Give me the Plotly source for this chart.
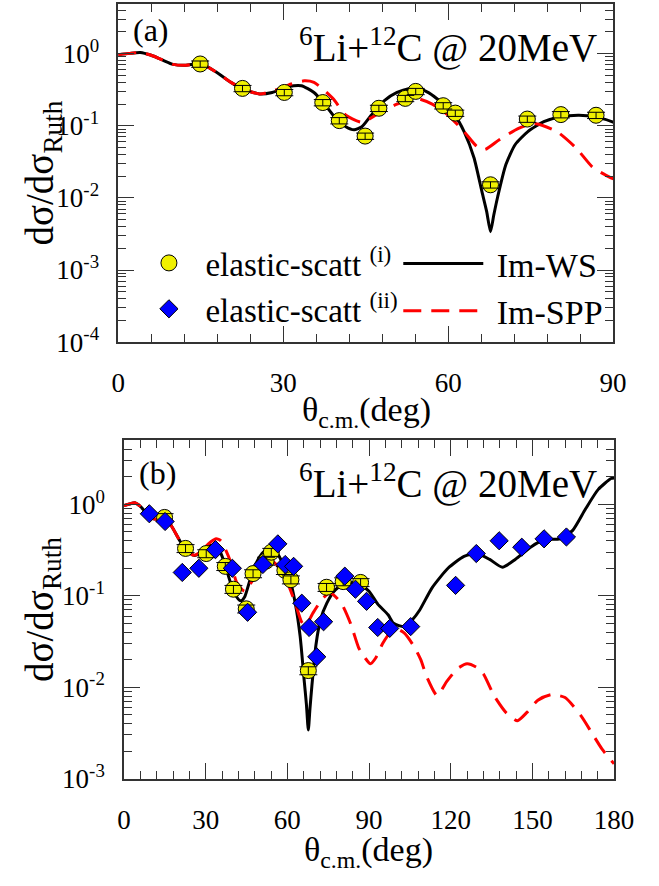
import plotly.graph_objects as go

# ---------------- data ----------------
theta_ws = [0, 2, 4, 6, 8, 10, 12.3, 14.9, 17.6, 20.5, 22.8, 25.7, 28, 31, 33.3, 35.6, 37.3,
            39.1, 41.4, 42.9, 44.3, 46, 48.4, 50.7, 53, 54.5, 56.5, 58.8, 61.2, 62.9, 64.7,
            66.1, 67.0, 67.7, 68.3, 69, 70.5, 72.2, 74.5, 77.4, 80.4, 83.8, 86.7, 90, 93.2,
            97, 99, 103, 106, 108.5, 113.2, 119, 124.9, 129.6, 134.3, 139, 143.7, 149.6,
            154.3, 160.2, 164.8, 169.5, 174.2, 178.9, 180]
sigma_ws = [0.97, 1.01, 1.04, 0.95, 0.82, 0.71, 0.69, 0.73, 0.57, 0.40, 0.32, 0.277, 0.29,
            0.35, 0.36, 0.29, 0.21, 0.14, 0.097, 0.088, 0.097, 0.14, 0.224, 0.29, 0.33, 0.335,
            0.286, 0.21, 0.14, 0.083, 0.036, 0.0126, 0.0065, 0.0034, 0.0058, 0.0103, 0.029,
            0.055, 0.083, 0.114, 0.133, 0.14, 0.133, 0.112, 0.081, 0.062, 0.05, 0.046, 0.055,
            0.069, 0.123, 0.20, 0.27, 0.29, 0.25, 0.205, 0.25, 0.345, 0.41, 0.42, 0.52, 0.89,
            1.46, 1.92, 1.95]

theta_spp = [0, 2, 4, 6, 8, 10, 12.3, 14.9, 17.6, 20.5, 22.8, 25.7, 28, 31, 33.8, 35.6, 37.5,
             39.1, 41.4, 44.3, 47.8, 50.7, 54.2, 57.1, 60, 62.9, 65.2, 66.7, 69.3, 72.8, 75.7,
             79.8, 83.3, 86.2, 88.5, 90.5, 92.5, 95, 98, 100.5, 103, 106.5, 109, 111.2, 115,
             118.5, 122.5, 126, 129.5, 132, 136, 140.5, 144.5, 148, 152, 157, 162, 168, 172,
             175.6, 180]
sigma_spp = [0.97, 1.01, 1.04, 0.95, 0.82, 0.71, 0.69, 0.73, 0.57, 0.40, 0.32, 0.277, 0.30,
             0.37, 0.42, 0.40, 0.31, 0.237, 0.14, 0.112, 0.156, 0.20, 0.24, 0.20, 0.14, 0.083,
             0.052, 0.047, 0.064, 0.092, 0.108, 0.083, 0.049, 0.027, 0.021, 0.018, 0.021, 0.030,
             0.040, 0.043, 0.039, 0.028, 0.020, 0.013, 0.0081, 0.0115, 0.016, 0.018, 0.0165,
             0.014, 0.008, 0.0052, 0.0043, 0.0053, 0.0072, 0.0083, 0.0077, 0.0048, 0.0031,
             0.0021, 0.00145]

theta_i = [14.9, 22.6, 30.2, 37.2, 40.2, 44.9, 47.4, 52.2, 54.1, 59.1, 61.3, 67.7, 74.4, 80.5, 86.9]
sigma_i = [0.72, 0.33, 0.29, 0.21, 0.118, 0.072, 0.175, 0.24, 0.30, 0.19, 0.15, 0.0152, 0.124,
           0.143, 0.140]
err_i_percent = 10

theta_ii = [9.3, 15.1, 21.4, 27.5, 33.6, 39.8, 45.4, 51.0, 56.5, 59.2, 62.3, 65.3, 68.0, 70.8,
            73.3, 81.1, 85.0, 89.1, 93.2, 97.6, 105.3, 121.8, 129.4, 137.8, 146.1, 154.3, 162.5]
sigma_ii = [0.79, 0.65, 0.18, 0.20, 0.32, 0.20, 0.066, 0.22, 0.37, 0.22, 0.21, 0.083, 0.045,
            0.0215, 0.052, 0.164, 0.118, 0.087, 0.045, 0.044, 0.046, 0.130, 0.29, 0.40, 0.34,
            0.42, 0.44]

y_ticks_a = [1e-4, 1e-3, 1e-2, 1e-1, 1]
y_text_a = ["10<sup>-4</sup>", "10<sup>-3</sup>", "10<sup>-2</sup>", "10<sup>-1</sup>", "10<sup>0</sup>"]
y_ticks_b = [1e-3, 1e-2, 1e-1, 1]
y_text_b = ["10<sup>-3</sup>", "10<sup>-2</sup>", "10<sup>-1</sup>", "10<sup>0</sup>"]

# ---------------- figure ----------------
W, H = 659, 886
FONT = "Liberation Serif, Times New Roman, Times, serif"
AX = "#333333"
NB = "\u00a0"

fig = go.Figure()


def add_panel(xa, ya, first):
    fig.add_trace(go.Scatter(x=theta_ws, y=sigma_ws, mode="lines", name=NB + "Im-WS",
                             line=dict(color="black", width=3, shape="spline", smoothing=0.6),
                             xaxis=xa, yaxis=ya, legend="legend2", showlegend=first,
                             legendrank=1))
    fig.add_trace(go.Scatter(x=theta_spp, y=sigma_spp, mode="lines", name=NB + "Im-SPP",
                             line=dict(color="#ff0000", width=3, dash="18px,10px",
                                       shape="spline", smoothing=0.6),
                             xaxis=xa, yaxis=ya, legend="legend2", showlegend=first,
                             legendrank=2))
    fig.add_trace(go.Scatter(x=theta_i, y=sigma_i, mode="markers",
                             name=NB * 2 + "elastic-scatt <sup>(i)</sup>",
                             marker=dict(symbol="circle", size=16, color="#f0f000",
                                         line=dict(color="black", width=1)),
                             xaxis=xa, yaxis=ya, legend="legend", showlegend=first,
                             legendrank=1))
    fig.add_trace(go.Scatter(x=theta_i, y=sigma_i, mode="markers", showlegend=False,
                             marker=dict(size=2, opacity=0),
                             error_y=dict(type="percent", value=err_i_percent, color="black",
                                          thickness=1, width=9),
                             xaxis=xa, yaxis=ya, hoverinfo="skip"))


add_panel("x", "y", True)
add_panel("x2", "y2", False)
fig.add_trace(go.Scatter(x=theta_ii, y=sigma_ii, mode="markers",
                         name=NB * 2 + "elastic-scatt <sup>(ii)</sup>",
                         marker=dict(symbol="diamond", size=14, color="#0000ff",
                                     line=dict(color="black", width=1)),
                         xaxis="x2", yaxis="y2", legend="legend", showlegend=True,
                         legendrank=2))

tickfont = dict(family=FONT, size=27, color="black")


def xstyle(rng, dom, anchor):
    return dict(domain=dom, anchor=anchor, range=rng, tickmode="linear", tick0=0, dtick=30,
                ticks="inside", ticklen=16, tickwidth=1.3, tickcolor=AX, showline=True,
                linecolor=AX, linewidth=1.5, mirror="ticks", showgrid=False, zeroline=False,
                tickfont=tickfont, ticklabelstandoff=16,
                minor=dict(tick0=0, dtick=6, ticks="inside", ticklen=8, tickwidth=1.2,
                           tickcolor=AX, showgrid=False))


def ystyle(rng, dom, anchor, tv, tt):
    return dict(domain=dom, anchor=anchor, type="log", range=rng, tickmode="array",
                tickvals=tv, ticktext=tt, ticks="inside", ticklen=16, tickwidth=1.3,
                tickcolor=AX, showline=True, linecolor=AX, linewidth=1.5, mirror="ticks",
                showgrid=False, zeroline=False, tickfont=tickfont, ticklabelstandoff=12,
                minor=dict(dtick="D1", ticks="inside", ticklen=8, tickwidth=1.2,
                           tickcolor=AX, showgrid=False))


fig.update_layout(
    width=W, height=H, margin=dict(l=0, r=0, t=0, b=0),
    paper_bgcolor="white", plot_bgcolor="white",
    font=dict(family=FONT, color="black"),
    xaxis=xstyle([0, 90], [116 / W, 632 / W], "y"),
    yaxis=ystyle([-4, 0.69], [1 - 348 / H, 1 - 4 / H], "x", y_ticks_a, y_text_a),
    xaxis2=xstyle([0, 180], [122 / W, 633 / W], "y2"),
    yaxis2=ystyle([-3, 0.7], [1 - 792 / H, 1 - 448 / H], "x2", y_ticks_b, y_text_b),
    legend=dict(x=148 / W, y=1 - 239 / H, xanchor="left", yanchor="top",
                font=dict(family=FONT, size=33), bgcolor="rgba(0,0,0,0)",
                itemwidth=30, tracegroupgap=0),
    legend2=dict(x=408 / W, y=1 - 239 / H, xanchor="left", yanchor="top",
                 font=dict(family=FONT, size=34), bgcolor="rgba(0,0,0,0)",
                 itemwidth=80, tracegroupgap=0),
    showlegend=True,
)

ann_font = dict(family=FONT, size=32, color="black")
title_font = dict(family=FONT, size=39, color="black")
annotations = [
    dict(text="(a)", x=150 / W, y=1 - 31 / H, xanchor="center", yanchor="middle"),
    dict(text="(b)", x=157 / W, y=1 - 481 / H, xanchor="center", yanchor="middle"),
    dict(text="<sup>6</sup>Li+<sup>12</sup>C @ 20MeV", x=302 / W, y=1 - 46 / H,
         xanchor="left", yanchor="middle", font=title_font),
    dict(text="<sup>6</sup>Li+<sup>12</sup>C @ 20MeV", x=302 / W, y=1 - 490 / H,
         xanchor="left", yanchor="middle", font=title_font),
    dict(text="θ<sub>c.m.</sub>(deg)", x=375 / W, y=1 - 419 / H, xanchor="center",
         yanchor="middle", font=dict(family=FONT, size=34, color="black")),
    dict(text="θ<sub>c.m.</sub>(deg)", x=377 / W, y=1 - 867 / H, xanchor="center",
         yanchor="middle", font=dict(family=FONT, size=34, color="black")),
    dict(text="dσ/dσ<sub>Ruth</sub>", x=37 / W, y=1 - 176 / H, xanchor="center",
         yanchor="middle", textangle=-90, font=dict(family=FONT, size=39, color="black")),
    dict(text="dσ/dσ<sub>Ruth</sub>", x=37 / W, y=1 - 620 / H, xanchor="center",
         yanchor="middle", textangle=-90, font=dict(family=FONT, size=39, color="black")),
]
for a in annotations:
    a.setdefault("font", ann_font)
    a.update(xref="paper", yref="paper", showarrow=False)
fig.update_layout(annotations=annotations)

fig.write_html("out.html")
